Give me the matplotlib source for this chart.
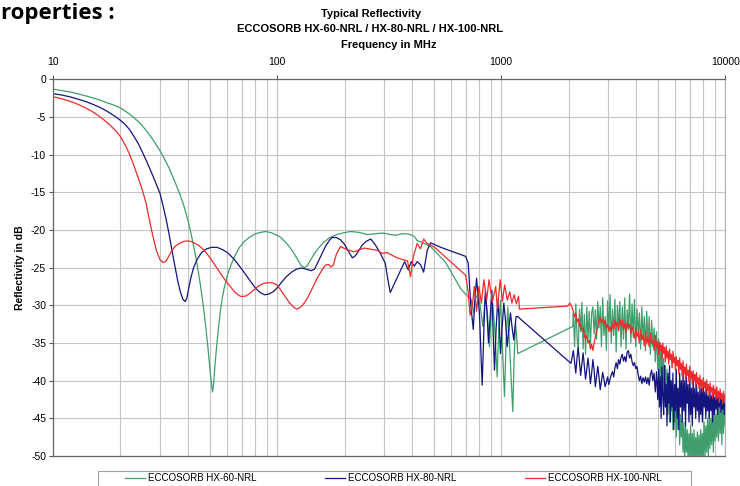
import matplotlib.pyplot as plt
import matplotlib.ticker as ticker
from matplotlib.patches import Rectangle

plt.rcParams['font.family'] = ['Liberation Sans', 'DejaVu Sans']
plt.rcParams['axes.unicode_minus'] = False

# Series names and colours
series_names = ["ECCOSORB HX-60-NRL", "ECCOSORB HX-80-NRL", "ECCOSORB HX-100-NRL"]
series_colors = ["#3f9e6c", "#14147f", "#ee2a2a"]

# Low / mid band readings (MHz, dB)
green_low = [
    (10, -1.3), (11, -1.5), (12, -1.7), (13, -1.95), (14, -2.2), (15, -2.45),
    (16, -2.7), (17, -3.0), (18, -3.25), (19, -3.5), (20, -3.8), (21, -4.2),
    (22, -4.65), (23, -5.1), (24, -5.6), (25, -6.15), (26, -6.75), (27, -7.4),
    (28, -8.05), (29, -8.75), (30, -9.45), (31, -10.2), (32, -11.0), (33, -11.8),
    (34, -12.7), (35, -13.6), (36, -14.5), (37, -15.4), (38, -16.4), (39, -17.5),
    (40, -18.7), (41, -20.0), (42, -21.5), (43, -23.0), (44, -24.6), (45, -26.4),
    (46, -28.3), (47, -30.4), (48, -32.7), (49, -35.2), (50, -38.0), (51, -40.5),
    (51.5, -41.5), (52, -40.6), (53, -37.5), (54, -34.8), (55, -32.5), (56, -30.5),
    (57, -29.0), (58, -27.8), (60, -26.0), (62, -24.8), (64, -23.8), (66, -23.0),
    (68, -22.3), (71, -21.6), (75, -21.0), (80, -20.5), (85, -20.3), (89, -20.2),
    (94, -20.35), (100, -20.7), (104, -21.0), (109, -21.6), (114, -22.3),
    (119, -23.1), (124, -24.0), (128, -24.7), (132, -25.0), (136, -24.8),
    (141, -24.0), (147, -23.1), (154, -22.3), (162, -21.6), (172, -21.0),
    (185, -20.6), (200, -20.35), (213, -20.2), (230, -20.3), (253, -20.6),
    (275, -20.5), (298, -20.4), (320, -20.6), (338, -20.7), (360, -20.5),
    (382, -20.5), (400, -20.7), (411, -20.9), (422, -21.4), (440, -21.6),
    (455, -21.8), (484, -22.2), (565, -24.3), (660, -27.8), (710, -28.8),
    (735, -29.2), (753, -31.0), (770, -29.0), (792, -28.4), (810, -30.5),
    (829, -32.8), (850, -28.8), (868, -31.0), (887, -35.5), (902, -31.0),
    (918, -29.7), (940, -34.0), (960, -39.5), (976, -33.0), (993, -29.3),
    (1012, -35.0), (1035, -42.1), (1052, -35.0), (1071, -30.2), (1097, -37.0),
    (1127, -44.1), (1143, -37.0), (1159, -32.4), (1172, -34.0), (1186, -36.4),
    (2087, -32.8),
]

blue_low = [
    (10, -1.9), (11, -2.1), (12, -2.35), (13, -2.65), (14, -2.95), (15, -3.3),
    (16, -3.65), (17, -4.05), (18, -4.5), (19, -4.95), (20, -5.45), (21, -6.0),
    (22, -6.7), (23, -7.6), (24, -8.5), (25, -9.6), (26, -10.7), (27, -11.8),
    (28, -12.9), (29, -14.0), (30, -15.1), (31, -16.8), (32, -18.6), (33, -20.6),
    (34, -22.8), (35, -24.8), (36, -26.7), (37, -28.2), (38, -29.2), (38.9, -29.5),
    (39.6, -29.0), (40.3, -27.8), (41.2, -26.4), (42.4, -25.0), (44, -23.9),
    (46, -23.0), (48.5, -22.5), (51, -22.3), (54, -22.3), (57, -22.6), (60, -23.0),
    (64, -23.8), (68, -24.8), (72, -25.8), (76, -26.8), (80, -27.7), (84, -28.3),
    (88, -28.6), (92, -28.5), (96, -28.2), (100, -27.7), (105, -26.9), (110, -26.2),
    (116, -25.6), (122, -25.2), (128, -25.05), (135, -25.2), (142, -25.4),
    (147, -25.2), (152, -24.3), (159, -23.1), (165, -22.1), (171, -21.4),
    (176, -21.0), (184, -21.0), (192, -21.3), (200, -21.9), (208, -22.8),
    (217, -23.7), (224, -23.4), (232, -22.7), (240, -22.0), (250, -21.5),
    (262, -21.2), (275, -22.0), (289, -23.1), (304, -24.4), (312, -26.5),
    (320, -28.3), (345, -26.2), (371, -24.2), (385, -25.3), (397, -24.2),
    (410, -24.8), (422, -24.2), (437, -24.6), (451, -25.6), (468, -22.7),
    (484, -21.7), (538, -22.3), (573, -22.6), (694, -23.5), (713, -24.4),
    (722, -27.0), (731, -29.7), (751, -33.2), (765, -29.0), (777, -26.4),
    (790, -29.0), (800, -31.0), (823, -40.6), (838, -33.0), (851, -28.0),
    (865, -31.0), (878, -35.0), (895, -31.0), (909, -28.0), (920, -33.0),
    (934, -38.6), (950, -33.0), (966, -29.3), (980, -32.0), (993, -36.4),
    (1010, -33.0), (1028, -29.7), (1046, -32.0), (1064, -35.5), (1083, -33.0),
    (1101, -31.0), (1120, -33.0), (1139, -34.6), (1152, -33.0), (1166, -31.5),
    (1186, -31.5), (2050, -37.7),
]

red_low = [
    (10, -2.3), (11, -2.6), (12, -2.95), (13, -3.35), (14, -3.8), (15, -4.3),
    (16, -4.85), (17, -5.45), (18, -6.1), (19, -6.8), (20, -7.6), (21, -8.7),
    (22, -10.0), (23, -11.5), (24, -13.1), (25, -14.6), (26, -16.4), (27, -18.8),
    (28, -21.0), (29, -22.8), (30, -23.9), (30.9, -24.3), (31.8, -24.2),
    (32.7, -23.6), (33.8, -22.8), (35.0, -22.2), (36.5, -21.8), (38.5, -21.5),
    (40.2, -21.45), (42, -21.6), (44.5, -22.0), (47, -22.6), (50, -23.6),
    (53.8, -25.0), (57.5, -26.3), (61.8, -27.5), (65, -28.3), (68.5, -28.8),
    (72, -28.8), (75, -28.5), (78.6, -28.0), (83, -27.4), (87, -27.1), (90.2, -27.0),
    (95, -27.0), (100, -27.3), (104, -28.0), (109, -28.9), (114, -29.7),
    (119, -30.3), (123, -30.5), (128, -30.2), (133, -29.6), (138, -28.8),
    (145, -27.5), (151, -26.4), (156, -25.7), (161, -25.0), (166, -24.6),
    (170, -24.6), (174, -24.9), (178, -24.7), (184, -23.2), (192, -22.2),
    (205, -22.6), (220, -22.9), (245, -22.4), (280, -22.7), (295, -23.1),
    (310, -23.0), (343, -23.7), (382, -24.1), (394, -26.2), (405, -23.6),
    (422, -21.8), (437, -22.5), (451, -21.2), (468, -21.8), (484, -22.0),
    (505, -22.3), (694, -26.0), (713, -28.2), (727, -31.3), (745, -29.9),
    (759, -27.5), (777, -30.8), (796, -27.5), (816, -29.7), (838, -26.6),
    (862, -29.3), (883, -26.6), (914, -29.5), (946, -27.5), (962, -30.4),
    (991, -26.6), (1013, -29.5), (1037, -27.3), (1066, -29.3), (1093, -28.2),
    (1117, -29.7), (1142, -28.6), (1170, -29.8), (1196, -28.8), (1207, -30.5),
    (1982, -30.1), (2030, -29.7), (2070, -30.2),
]

# High band sweep (MHz), shared by the three series
f_hi = [
    2100, 2127, 2154, 2181, 2208, 2236, 2264, 2293, 2322, 2351,
    2381, 2411, 2441, 2472, 2503, 2535, 2567, 2600, 2633, 2666,
    2700, 2734, 2769, 2804, 2839, 2875, 2912, 2949, 2986, 3024,
    3062, 3101, 3140, 3180, 3220, 3261, 3302, 3344, 3386, 3429,
    3472, 3516, 3561, 3606, 3651, 3697, 3744, 3792, 3840, 3888,
    3937, 3987, 4038, 4089, 4140, 4193, 4246, 4300, 4354, 4409,
    4465, 4522, 4579, 4637, 4696, 4755, 4815, 4876, 4938, 5000,
    5044, 5088, 5132, 5177, 5222, 5267, 5313, 5359, 5406, 5453,
    5500, 5548, 5596, 5645, 5694, 5743, 5793, 5844, 5894, 5946,
    5997, 6049, 6102, 6155, 6209, 6263, 6317, 6372, 6428, 6484,
    6540, 6597, 6654, 6712, 6771, 6830, 6889, 6949, 7010, 7071,
    7132, 7194, 7257, 7320, 7384, 7448, 7513, 7578, 7644, 7711,
    7778, 7846, 7914, 7983, 8052, 8122, 8193, 8264, 8336, 8409,
    8482, 8556, 8630, 8705, 8781, 8858, 8935, 9012, 9091, 9170,
    9249, 9330, 9411, 9493, 9576, 9659, 9743, 9828, 9913, 10000,
]

green_hi = [
    -31.0, -35.5, -29.8, -34.0, -36.2, -30.5, -33.5, -29.6, -35.8, -31.2,
    -36.5, -30.2, -34.5, -30.8, -35.5, -31.0, -30.2, -33.8, -30.6, -34.5,
    -29.5, -33.0, -30.2, -35.5, -29.0, -34.0, -31.5, -36.0, -29.4, -33.5,
    -28.6, -35.0, -30.5, -34.0, -29.2, -36.2, -30.0, -33.0, -29.5, -35.5,
    -30.2, -34.5, -29.0, -35.8, -30.6, -33.2, -28.5, -35.0, -29.8, -34.2,
    -29.2, -35.5, -30.5, -34.0, -31.0, -35.8, -30.2, -34.5, -31.5, -36.0,
    -30.8, -35.2, -31.5, -36.5, -32.0, -35.5, -33.0, -37.5, -33.5, -38.5,
    -34.5, -39.5, -35.0, -41.0, -36.0, -40.5, -37.0, -42.5, -38.0, -43.5,
    -38.5, -44.5, -39.5, -45.5, -40.0, -44.0, -41.0, -46.5, -41.5, -45.5,
    -42.5, -47.5, -43.0, -46.5, -44.0, -48.5, -44.5, -47.5, -45.0, -49.5,
    -45.5, -50.5, -46.0, -49.5, -46.5, -51.0, -47.0, -50.0, -46.0, -51.0,
    -47.0, -50.5, -46.5, -51.0, -47.5, -50.2, -46.8, -51.0, -47.2, -50.5,
    -46.5, -51.0, -47.0, -50.0, -45.5, -50.5, -46.0, -49.5, -45.0, -50.0,
    -44.5, -49.0, -45.0, -48.5, -44.0, -49.5, -43.5, -48.0, -44.5, -47.5,
    -43.0, -48.0, -42.5, -47.0, -43.5, -48.5, -42.0, -47.0, -43.0, -46.0,
]

blue_hi = [
    -36.0, -37.5, -39.0, -37.0, -35.6, -37.5, -39.3, -37.8, -36.3, -38.0,
    -39.8, -38.5, -37.0, -38.5, -40.4, -39.0, -37.2, -38.6, -40.8, -39.5,
    -38.1, -39.5, -41.2, -40.0, -38.9, -39.8, -40.8, -40.2, -39.5, -40.5,
    -39.8, -39.2, -38.8, -39.5, -38.3, -37.6, -38.4, -37.2, -37.8, -36.9,
    -36.5, -37.4, -36.8, -37.5, -36.2, -36.0, -37.0, -36.5, -37.5, -38.0,
    -37.6, -38.4, -38.1, -39.2, -40.0, -39.4, -40.4, -39.6, -40.2, -39.5,
    -40.4, -39.6, -40.6, -39.2, -38.6, -40.0, -39.0, -41.5, -38.8, -42.5,
    -38.5, -43.5, -39.5, -45.0, -38.2, -42.0, -44.5, -38.0, -43.5, -40.5,
    -46.0, -39.0, -43.0, -38.0, -45.5, -40.0, -43.5, -39.0, -46.5, -40.5,
    -44.0, -38.5, -45.0, -41.0, -46.5, -39.0, -43.5, -40.0, -45.5, -38.8,
    -44.0, -40.0, -46.0, -39.5, -43.0, -40.5, -45.5, -39.8, -44.5, -41.0,
    -46.0, -40.0, -43.5, -41.0, -45.0, -40.5, -44.0, -41.5, -45.5, -40.8,
    -44.5, -41.0, -45.5, -40.5, -43.5, -41.5, -45.0, -41.0, -44.0, -42.0,
    -45.0, -41.5, -44.0, -42.0, -45.5, -41.0, -44.5, -42.2, -43.8, -41.8,
    -44.5, -42.0, -43.5, -41.5, -44.2, -42.5, -43.8, -42.0, -44.5, -43.0,
]

red_hi = [
    -30.8, -31.5, -31.0, -32.2, -31.8, -32.8, -32.4, -33.4, -33.0, -34.0,
    -34.4, -34.0, -35.0, -34.6, -35.8, -35.2, -36.0, -35.0, -34.2, -33.5,
    -32.8, -32.0, -31.6, -32.3, -31.8, -32.6, -32.0, -33.0, -32.5, -33.4,
    -32.8, -33.5, -32.5, -33.2, -32.0, -32.8, -32.2, -33.4, -31.8, -32.6,
    -32.0, -33.2, -32.4, -33.6, -32.3, -33.0, -32.5, -33.8, -32.8, -33.5,
    -34.4, -33.0, -34.2, -33.6, -35.0, -33.2, -34.6, -33.9, -35.4, -33.5,
    -35.0, -34.2, -35.5, -33.7, -35.1, -34.6, -36.0, -34.0, -35.6, -34.8,
    -36.5, -34.9, -36.0, -35.3, -37.1, -35.0, -36.4, -35.6, -37.5, -35.4,
    -37.0, -36.1, -37.8, -35.8, -37.2, -36.5, -38.3, -36.1, -37.6, -36.9,
    -38.6, -36.8, -38.0, -37.3, -39.1, -37.0, -38.5, -37.7, -39.4, -37.4,
    -39.0, -38.2, -39.9, -37.8, -39.3, -38.6, -40.2, -38.1, -39.7, -38.8,
    -40.5, -38.7, -40.0, -39.2, -40.9, -38.9, -40.4, -39.6, -41.1, -39.3,
    -40.8, -39.9, -41.4, -39.6, -40.9, -40.2, -41.7, -39.9, -41.3, -40.5,
    -42.0, -40.3, -41.5, -40.9, -42.3, -40.6, -41.8, -41.1, -42.5, -40.8,
    -42.2, -41.4, -42.9, -41.1, -42.4, -41.7, -43.1, -41.4, -42.7, -41.9,
]

y_ticks = [0, -5, -10, -15, -20, -25, -30, -35, -40, -45, -50]
x_ticks = [10, 100, 1000, 10000]


def join_series(low, high):
    # Low band pairs first, then the shared high band sweep
    freqs = [p[0] for p in low] + f_hi
    values = [p[1] for p in low] + high
    return freqs, values


fig = plt.figure(figsize=(7.4, 4.86), dpi=100)
ax = fig.add_axes([0.0716, 0.0617, 0.9084, 0.7751])

all_series = [(green_low, green_hi), (blue_low, blue_hi), (red_low, red_hi)]
for (low, high), name, color in zip(all_series, series_names, series_colors):
    freqs, values = join_series(low, high)
    ax.plot(freqs, values, color=color, linewidth=0.9, label=name)

# Axes: log frequency on top, dB on the left
ax.set_xscale('log')
ax.set_xlim(10, 10000)
ax.set_ylim(-50, 0)
ax.xaxis.tick_top()
ax.set_xticks(x_ticks)
ax.set_xticklabels([str(t) for t in x_ticks])
ax.xaxis.set_minor_locator(ticker.LogLocator(base=10, subs=range(2, 10)))
ax.xaxis.set_minor_formatter(ticker.NullFormatter())
ax.set_yticks(y_ticks)
ax.tick_params(axis='both', which='major', labelsize=7.5, length=3, width=0.8,
               color='#555555', pad=2)
ax.tick_params(axis='x', which='major', pad=6)
ax.tick_params(axis='x', which='minor', length=0)

ax.grid(True, which='both', axis='x', color='#c4c4c4', linewidth=0.8)
ax.grid(True, which='major', axis='y', color='#c4c4c4', linewidth=0.8)
ax.set_axisbelow(True)

for side in ['left', 'top', 'bottom']:
    ax.spines[side].set_color('#666666')
    ax.spines[side].set_linewidth(0.9)
ax.spines['right'].set_color('#b0b0b0')
ax.spines['right'].set_linewidth(0.8)

ax.set_ylabel("Reflectivity in dB", fontsize=7.5, fontweight='bold', labelpad=4)

# Titles above the plot
fig.text(0.502, 0.972, "Typical Reflectivity", ha='center', va='center',
         fontsize=8, fontweight='bold')
fig.text(0.500, 0.940, "ECCOSORB HX-60-NRL / HX-80-NRL / HX-100-NRL",
         ha='center', va='center', fontsize=8, fontweight='bold')
fig.text(0.526, 0.907, "Frequency in MHz", ha='center', va='center',
         fontsize=8, fontweight='bold')
fig.text(0.002, 0.972, "roperties :", ha='left', va='center', fontsize=16,
         fontweight='bold', family=['Open Sans', 'DejaVu Sans'])

# Legend at the bottom; its box runs off the picture edge
fig.add_artist(Rectangle((98 / 740, -0.05), 593 / 740, 0.05 + 15 / 486,
                         transform=fig.transFigure, fill=False,
                         edgecolor='#a0a0a0', linewidth=0.8))
fig.legend(loc='center left', bbox_to_anchor=(125 / 740, 8 / 486),
           ncol=3, fontsize=7, frameon=False, handlelength=2.1,
           handletextpad=0.3, columnspacing=7.0, borderpad=0, borderaxespad=0)

fig.savefig("out.png", dpi=100)
